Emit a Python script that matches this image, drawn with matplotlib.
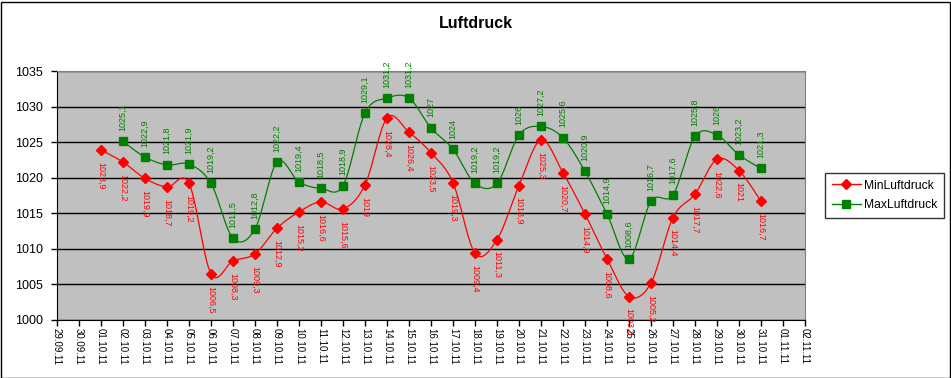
import matplotlib
matplotlib.use("Agg")
import matplotlib.pyplot as plt
import numpy as np
from matplotlib.patches import Rectangle
from matplotlib.lines import Line2D

plt.rcParams['font.family'] = ['Liberation Sans', 'DejaVu Sans']

dates = ["29.09.11", "30.09.11"] + [f"{d:02d}.10.11" for d in range(1, 32)] + ["01.11.11", "02.11.11"]

min_dates = [f"{d:02d}.10.11" for d in range(1, 32)]
min_vals = [1023.9, 1022.2, 1019.9, 1018.7, 1019.2, 1006.5, 1008.3, 1009.3, 1012.9, 1015.2,
            1016.6, 1015.6, 1019.0, 1028.4, 1026.4, 1023.5, 1019.3, 1009.4, 1011.3, 1018.9,
            1025.3, 1020.7, 1014.9, 1008.6, 1003.3, 1005.2, 1014.4, 1017.7, 1022.6, 1021.0, 1016.7]

max_dates = [f"{d:02d}.10.11" for d in range(2, 32)]
max_vals = [1025.1, 1022.9, 1021.8, 1021.9, 1019.2, 1011.5, 1012.8, 1022.2, 1019.4, 1018.5,
            1018.9, 1029.1, 1031.2, 1031.2, 1027.0, 1024.0, 1019.2, 1019.2, 1026.0, 1027.2,
            1025.6, 1020.9, 1014.9, 1008.6, 1016.7, 1017.6, 1025.8, 1026.0, 1023.2, 1021.3]

y_ticks = [1000, 1005, 1010, 1015, 1020, 1025, 1030, 1035]


def smooth(x, y, n=20):
    x = np.asarray(x, float); y = np.asarray(y, float)
    px = np.concatenate([[x[0]], x, [x[-1]]])
    py = np.concatenate([[y[0]], y, [y[-1]]])
    xs, ys = [], []
    t = np.linspace(0, 1, n, endpoint=False)
    for i in range(1, len(px) - 2):
        p0, p1, p2, p3 = [np.array([px[j], py[j]]) for j in (i - 1, i, i + 1, i + 2)]
        c1 = p1 + (p2 - p0) / 6.0
        c2 = p2 - (p3 - p1) / 6.0
        for tt in t:
            b = ((1 - tt) ** 3) * p1 + 3 * ((1 - tt) ** 2) * tt * c1 + 3 * (1 - tt) * tt ** 2 * c2 + tt ** 3 * p2
            xs.append(b[0]); ys.append(b[1])
    xs.append(x[-1]); ys.append(y[-1])
    return xs, ys


W, H = 951, 378
fig = plt.figure(figsize=(W / 100, H / 100), dpi=100)
ax = fig.add_axes([57 / W, 1 - 320 / H, (805 - 57) / W, (320 - 71) / H])
ax.set_facecolor('#C0C0C0')

xmin = [dates.index(d) for d in min_dates]
xmax = [dates.index(d) for d in max_dates]

sx, sy = smooth(xmin, min_vals)
ax.plot(sx, sy, color='#FF0000', lw=0.9, zorder=3)
ax.plot(xmin, min_vals, ls='none', marker='D', ms=5, color='#FF0000', zorder=4)
sx, sy = smooth(xmax, max_vals)
ax.plot(sx, sy, color='#008000', lw=0.9, zorder=3)
ax.plot(xmax, max_vals, ls='none', marker='s', ms=5.8, color='#008000', zorder=4)


def fmt(v):
    s = f"{v:.1f}"
    if s.endswith('.0'):
        s = s[:-2]
    return s.replace('.', ',')


for x, v in zip(xmin, min_vals):
    ax.annotate(fmt(v), (x, v), xytext=(0, -8.5), textcoords='offset points', rotation=270,
                ha='center', va='top', color='#FF0000', fontsize=6.5, zorder=5, annotation_clip=False)
for x, v in zip(xmax, max_vals):
    ax.annotate(fmt(v), (x, v), xytext=(0, 7.5), textcoords='offset points', rotation=90,
                ha='center', va='bottom', color='#008000', fontsize=6.5, zorder=5, annotation_clip=False)

ax.set_xlim(0, len(dates) - 1)
ax.set_ylim(1000, 1035)
ax.set_yticks(y_ticks)
ax.set_yticklabels([str(v) for v in y_ticks], fontsize=9)
ax.set_xticks(range(len(dates)))
ax.set_xticklabels(dates, rotation=270, fontsize=7, va='top', ha='center')
ax.tick_params(axis='both', direction='out', length=4, width=1, color='black')
ax.tick_params(axis='y', pad=6)
ax.tick_params(axis='x', pad=2)
ax.grid(axis='y', color='black', lw=1)
ax.set_axisbelow(True)
for s in ['top', 'right']:
    ax.spines[s].set_color('#808080')
for s in ['left', 'bottom']:
    ax.spines[s].set_color('black')

fig.text(476 / W, 1 - 24 / H, 'Luftdruck', ha='center', va='center', fontsize=11.5, fontweight='bold')

handles = [Line2D([], [], color='#FF0000', marker='D', ms=5, lw=1),
           Line2D([], [], color='#008000', marker='s', ms=6, lw=1)]
leg = fig.legend(handles, ['MinLuftdruck', 'MaxLuftdruck'], loc='upper left',
                 bbox_to_anchor=(825 / W, 1 - 173 / H), fontsize=8.7, frameon=True, fancybox=False,
                 edgecolor='black', handlelength=2.4, borderpad=0.55, labelspacing=0.6, handletextpad=0.3,
                 borderaxespad=0)
leg.get_frame().set_linewidth(1)

fig.patches.append(Rectangle((0.5 / W, 0.5 / H), 1 - 2 / W, 1 - 2 / H, transform=fig.transFigure,
                             fill=False, edgecolor='black', lw=1))

fig.savefig('out.png', dpi=100)
